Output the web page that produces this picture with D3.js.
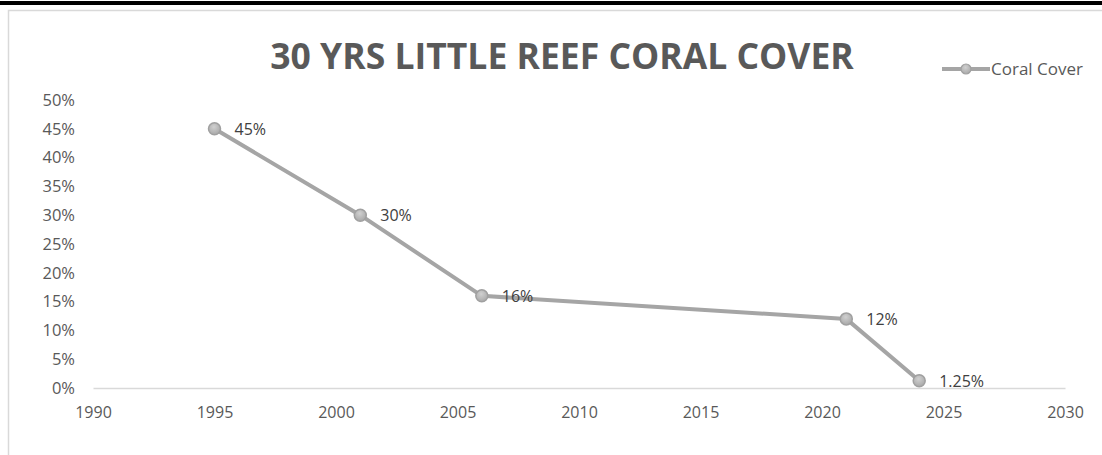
<!DOCTYPE html>
<html>
<head>
<meta charset="utf-8">
<script src="https://cdn.jsdelivr.net/npm/d3@7"></script>
<style>
  body { margin: 0; background: #fff; }
  svg { display: block; font-family: "Open Sans", "Noto Sans", sans-serif; }
</style>
</head>
<body>
<svg id="chart" width="1102" height="455"></svg>
<script>
// --- Data ---
const years = [1995, 2001, 2006, 2021, 2024];
const cover = [0.45, 0.30, 0.16, 0.12, 0.0125];
const pointLabels = ["45%", "30%", "16%", "12%", "1.25%"];
const xTicks = [1990, 1995, 2000, 2005, 2010, 2015, 2020, 2025, 2030];
const yTicks = [0, 0.05, 0.10, 0.15, 0.20, 0.25, 0.30, 0.35, 0.40, 0.45, 0.50];
const seriesName = "Coral Cover";
const title = "30 YRS LITTLE REEF CORAL COVER";

const svg = d3.select("#chart");
const textColor = "#595959";
const lineColor = "#a5a5a5";

// top black bar and chart frame
svg.append("rect").attr("x", 0).attr("y", 1).attr("width", 1102).attr("height", 4).attr("fill", "#000");
svg.append("rect").attr("x", 8.5).attr("y", 10.5).attr("width", 1110).attr("height", 460)
    .attr("fill", "none").attr("stroke", "#d9d9d9").attr("stroke-width", 1.5);

// marker gradient
const defs = svg.append("defs");
const grad = defs.append("radialGradient").attr("id", "mk").attr("cx", "45%").attr("cy", "35%").attr("r", "65%");
grad.append("stop").attr("offset", "0%").attr("stop-color", "#d0d0d0");
grad.append("stop").attr("offset", "100%").attr("stop-color", "#a8a8a8");

const margin = { left: 93, right: 37, top: 100, bottom: 67 };
const x = d3.scaleLinear().domain([1990, 2030]).range([margin.left, 1102 - margin.right]);
const y = d3.scaleLinear().domain([0, 0.5]).range([455 - margin.bottom, margin.top]);

// title
svg.append("text")
    .attr("x", 562).attr("y", 69)
    .attr("text-anchor", "middle")
    .attr("fill", textColor)
    .style("font-size", "35.5px").style("font-weight", "bold")
    .text(title);

// x axis
const xAxis = svg.append("g")
    .attr("transform", `translate(0,${y(0)})`)
    .call(d3.axisBottom(x).tickValues(xTicks).tickFormat(d3.format("d")).tickSize(0).tickPadding(19));
xAxis.select(".domain").attr("stroke", "#d9d9d9").attr("stroke-width", 1.5);
xAxis.selectAll("text").attr("fill", textColor).style("font-size", "16px").style("font-family", "Open Sans");

// y axis (labels only)
const yAxis = svg.append("g")
    .attr("transform", `translate(${margin.left},0)`)
    .call(d3.axisLeft(y).tickValues(yTicks).tickFormat(d3.format(".0%")).tickSize(0).tickPadding(18));
yAxis.select(".domain").remove();
yAxis.selectAll("text").attr("fill", textColor).style("font-size", "16.5px").style("font-family", "Open Sans");

// line
const pts = years.map((yr, i) => ({ yr, v: cover[i], label: pointLabels[i] }));
svg.append("path")
    .datum(pts)
    .attr("fill", "none")
    .attr("stroke", lineColor)
    .attr("stroke-width", 4)
    .attr("stroke-linejoin", "round")
    .attr("d", d3.line().x(d => x(d.yr)).y(d => y(d.v)));

svg.selectAll("circle.pt")
    .data(pts)
    .enter().append("circle")
    .attr("class", "pt")
    .attr("cx", d => x(d.yr)).attr("cy", d => y(d.v))
    .attr("r", 6)
    .attr("fill", "url(#mk)")
    .attr("stroke", "#a0a0a0").attr("stroke-width", 1.5);

svg.selectAll("text.lbl")
    .data(pts)
    .enter().append("text")
    .attr("class", "lbl")
    .attr("x", d => x(d.yr) + 20).attr("y", d => y(d.v) + 6)
    .attr("fill", "#404040")
    .style("font-size", "16px")
    .text(d => d.label);

// legend
const lg = svg.append("g").attr("transform", "translate(942,69)");
lg.append("line").attr("x1", 0).attr("x2", 48).attr("y1", 0).attr("y2", 0)
    .attr("stroke", lineColor).attr("stroke-width", 4);
lg.append("circle").attr("cx", 24).attr("cy", 0).attr("r", 5)
    .attr("fill", "url(#mk)").attr("stroke", "#a0a0a0").attr("stroke-width", 1.2);
lg.append("text").attr("x", 49).attr("y", 6)
    .attr("fill", textColor).style("font-size", "17px").text(seriesName);
</script>
</body>
</html>
